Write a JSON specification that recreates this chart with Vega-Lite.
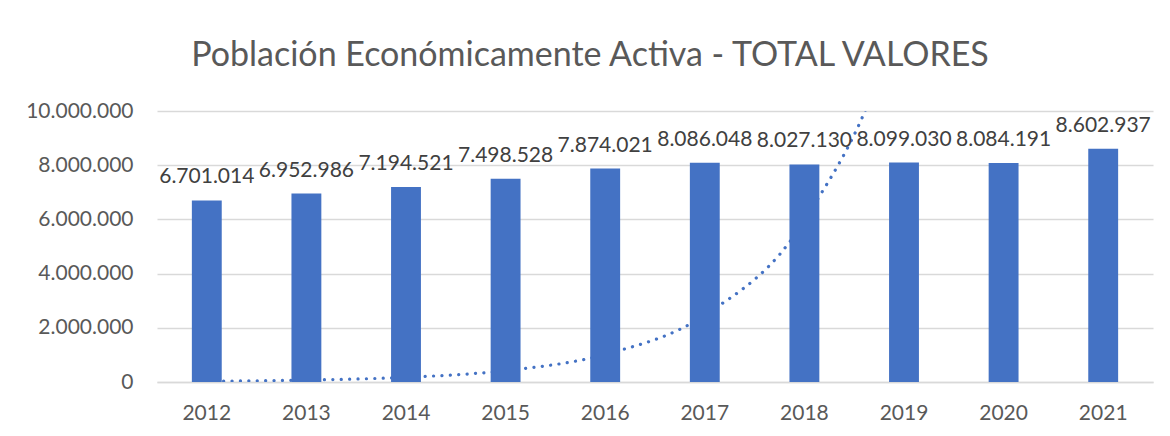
{
  "$schema": "https://vega.github.io/schema/vega-lite/v6.json",
  "width": 996,
  "height": 271,
  "autosize": {"type": "none"},
  "padding": {"left": 157, "top": 111, "right": 17, "bottom": 54},
  "background": "white",
  "title": {
    "text": "Población Económicamente Activa - TOTAL VALORES",
    "font": "Lato",
    "fontSize": 34,
    "fontWeight": "normal",
    "color": "#595959",
    "anchor": "middle",
    "dx": -65,
    "offset": 27
  },
  "data": {
    "values": [
      {"year": "2012", "value": 6701014, "trend": 30000},
      {"year": "2013", "value": 6952986, "trend": 72000},
      {"year": "2014", "value": 7194521, "trend": 174000},
      {"year": "2015", "value": 7498528, "trend": 420000},
      {"year": "2016", "value": 7874021, "trend": 1020000},
      {"year": "2017", "value": 8086048, "trend": 2470000},
      {"year": "2018", "value": 8027130, "trend": 5970000},
      {"year": "2019", "value": 8099030, "trend": 14400000},
      {"year": "2020", "value": 8084191, "trend": 34900000},
      {"year": "2021", "value": 8602937, "trend": 84500000}
    ]
  },
  "encoding": {
    "x": {
      "field": "year",
      "type": "ordinal",
      "scale": {"paddingInner": 0.7, "paddingOuter": 0.35},
      "axis": {
        "title": null,
        "labelAngle": 0,
        "ticks": false,
        "domain": true,
        "domainColor": "#d9d9d9",
        "domainWidth": 1.5,
        "labelFont": "Lato",
        "labelFontSize": 21,
        "labelColor": "#595959",
        "labelPadding": 20
      }
    }
  },
  "layer": [
    {
      "mark": {
        "type": "line",
        "clip": true,
        "interpolate": "monotone",
        "color": "#4472C4",
        "strokeWidth": 3.2,
        "strokeDash": [0.1, 8.3],
        "strokeCap": "round"
      },
      "encoding": {
        "y": {
          "field": "trend",
          "type": "quantitative",
          "scale": {"domain": [0, 10000000], "nice": false, "zero": true}
        }
      }
    },
    {
      "mark": {"type": "bar", "color": "#4472C4"},
      "encoding": {
        "y": {
          "field": "value",
          "type": "quantitative",
          "scale": {"domain": [0, 10000000], "nice": false},
          "axis": {
            "title": null,
            "values": [0, 2000000, 4000000, 6000000, 8000000, 10000000],
            "format": ",d",
            "grid": true,
            "gridColor": "#d9d9d9",
            "gridWidth": 1.5,
            "domain": false,
            "ticks": false,
            "labelFont": "Lato",
            "labelFontSize": 21,
            "labelColor": "#595959",
            "labelPadding": 24
          }
        }
      }
    },
    {
      "mark": {
        "type": "text",
        "font": "Lato",
        "fontSize": 21,
        "color": "#404040",
        "baseline": "alphabetic",
        "dy": -17
      },
      "encoding": {
        "y": {"field": "value", "type": "quantitative"},
        "text": {"field": "value", "type": "quantitative", "format": ",d"}
      }
    }
  ],
  "config": {
    "view": {"stroke": null},
    "locale": {
      "number": {
        "decimal": ",",
        "thousands": ".",
        "grouping": [3],
        "currency": ["$", ""]
      }
    }
  }
}
